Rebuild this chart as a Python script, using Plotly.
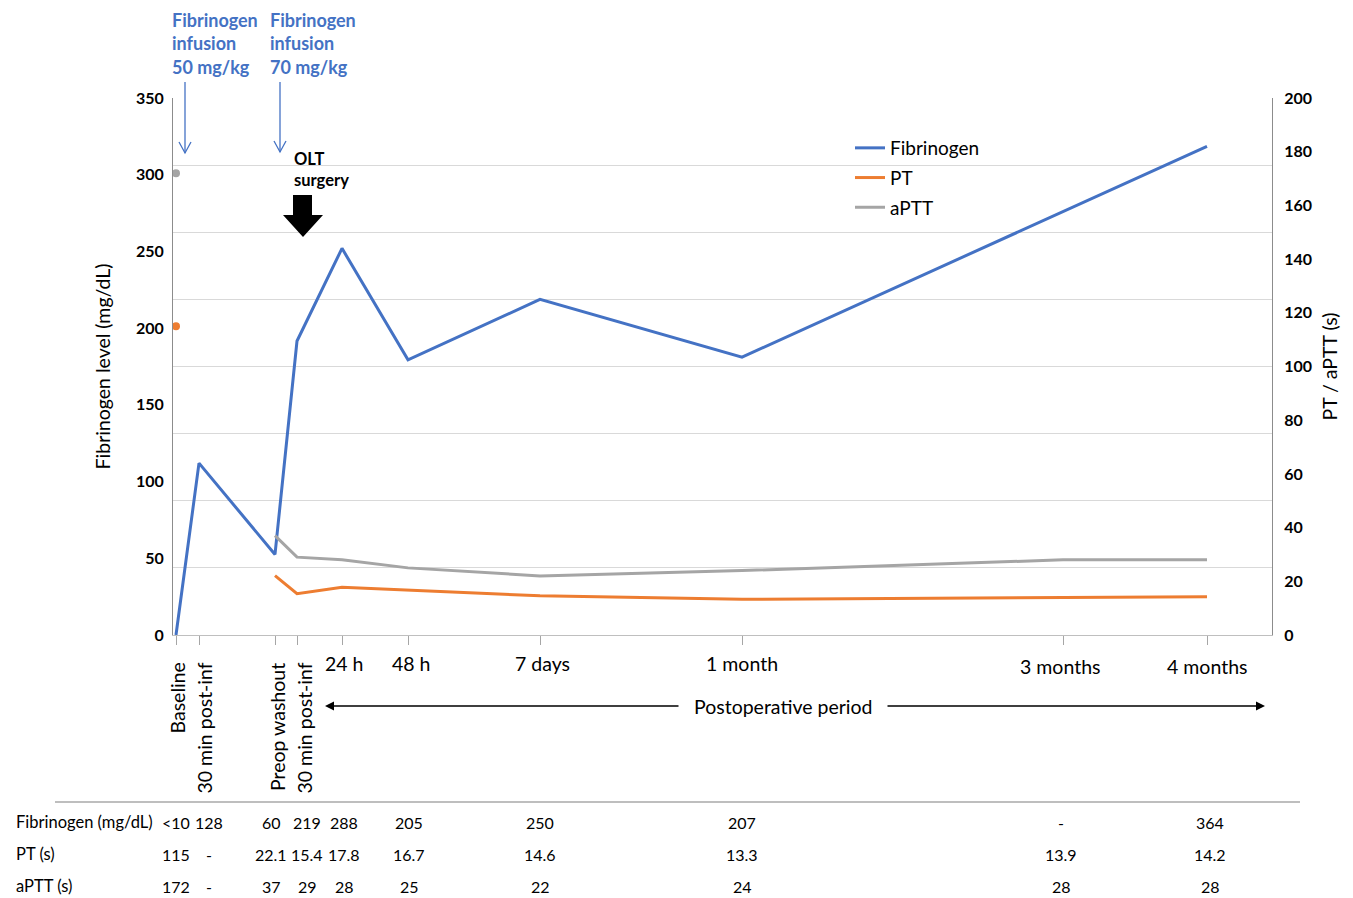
import plotly.graph_objects as go

# ---------------- data ----------------
time_labels = ["Baseline", "30 min post-inf", "Preop washout", "30 min post-inf",
               "24 h", "48 h", "7 days", "1 month", "3 months", "4 months"]
rotated_label = [True, True, True, True, False, False, False, False, False, False]
# position of each time point along the (non-linear) time axis
time_pos = [3, 26, 102, 124, 169, 235, 367, 569, 890, 1034]

fibrinogen = [0, 128, 60, 219, 288, 205, 250, 207, None, 364]
pt = [115, None, 22.1, 15.4, 17.8, 16.7, 14.6, 13.3, 13.9, 14.2]
aptt = [172, None, 37, 29, 28, 25, 22, 24, 28, 28]

fib_text = ["<10", "128", "60", "219", "288", "205", "250", "207", "-", "364"]
pt_text = ["115", "-", "22.1", "15.4", "17.8", "16.7", "14.6", "13.3", "13.9", "14.2"]
aptt_text = ["172", "-", "37", "29", "28", "25", "22", "24", "28", "28"]
row_names = ["Fibrinogen (mg/dL)", "PT (s)", "aPTT (s)"]

left_ticks = [0, 50, 100, 150, 200, 250, 300, 350]
right_ticks = list(range(0, 201, 20))

# ---------------- style ----------------
FONT = "Lato"
BLUE = "#4472C4"
ORANGE = "#ED7D31"
GRAY = "#A5A5A5"
W, H = 1353, 898          # browser window
OFF = 8                   # page body margin
L, R, T, B = 173, 1272, 98, 635   # plot area in window pixels
label_shift = [1, 5, 2, 7, 2, 3, 2, 0, -3, 0]
table_shift = [0, 10, -4, 10, 2, 1, 0, 0, -2, 3]


def px_x(px):
    return (px - L) / (R - L)


def px_y(py):
    return (B - py) / (B - T)


fig = go.Figure()

fig.add_trace(go.Scatter(x=time_pos, y=fibrinogen, name="Fibrinogen", mode="lines",
                         line=dict(color=BLUE, width=3), connectgaps=True,
                         yaxis="y", legendgroup="a"))
fig.add_trace(go.Scatter(x=time_pos, y=pt, name="PT", mode="lines",
                         line=dict(color=ORANGE, width=3), connectgaps=False,
                         yaxis="y2", legendgroup="b"))
fig.add_trace(go.Scatter(x=time_pos, y=aptt, name="aPTT", mode="lines",
                         line=dict(color=GRAY, width=3), connectgaps=False,
                         yaxis="y2", legendgroup="c"))
fig.add_trace(go.Scatter(x=time_pos[:1], y=pt[:1], mode="markers", showlegend=False,
                         marker=dict(color=ORANGE, size=8), yaxis="y2"))
fig.add_trace(go.Scatter(x=time_pos[:1], y=aptt[:1], mode="markers", showlegend=False,
                         marker=dict(color=GRAY, size=8), yaxis="y2"))
# carrier for the labelled left axis
fig.add_trace(go.Scatter(x=[time_pos[0]], y=[0], mode="markers", showlegend=False,
                         marker=dict(size=1, color="rgba(0,0,0,0)"), hoverinfo="skip",
                         yaxis="y3"))

annotations = []
shapes = []

# x tick labels
for lab, x, rot, sh in zip(time_labels, time_pos, rotated_label, label_shift):
    if rot:
        annotations.append(dict(x=x, y=px_y(661), xref="x", yref="paper", text=lab,
                                textangle=-90, showarrow=False, xanchor="center",
                                yanchor="top", xshift=sh,
                                font=dict(family=FONT, size=19.5, color="black")))
    else:
        yy = 666 if "months" in lab else 664
        annotations.append(dict(x=x, y=px_y(yy), xref="x", yref="paper", text=lab,
                                showarrow=False, xanchor="center", yanchor="middle",
                                xshift=sh,
                                font=dict(family=FONT, size=19.5, color="black")))

# Postoperative period
annotations.append(dict(x=px_x(783), y=px_y(706), xref="paper", yref="paper",
                        text="Postoperative period", showarrow=False,
                        xanchor="center", yanchor="middle",
                        font=dict(family=FONT, size=19.5, color="black")))
annotations.append(dict(x=325 - L, y=px_y(706), xref="x", yref="paper", ax=680 - L, ay=0,
                        axref="x", ayref="pixel", text="", showarrow=True, arrowhead=2,
                        arrowsize=1.2, arrowwidth=1.5, arrowcolor="black"))
annotations.append(dict(x=1265 - L, y=px_y(706), xref="x", yref="paper", ax=886 - L, ay=0,
                        axref="x", ayref="pixel", text="", showarrow=True, arrowhead=2,
                        arrowsize=1.2, arrowwidth=1.5, arrowcolor="black"))

# infusion notes
for xx, dose in [(170, "50 mg/kg"), (268, "70 mg/kg")]:
    annotations.append(dict(x=px_x(xx), y=px_y(43), xref="paper", yref="paper",
                            text="Fibrinogen<br>infusion<br>" + dose, showarrow=False,
                            xanchor="left", yanchor="middle", align="left",
                            font=dict(family=FONT, size=18, color=BLUE, weight="bold")))
for ax_x, y0, y1 in [(185, 82, 153), (280, 82, 152)]:
    shapes.append(dict(type="line", xref="paper", yref="paper", x0=px_x(ax_x), x1=px_x(ax_x),
                       y0=px_y(y0), y1=px_y(y1), line=dict(color=BLUE, width=1.3)))
    shapes.append(dict(type="path", xref="paper", yref="paper",
                       path=f"M {px_x(ax_x-6)},{px_y(y1-11)} L {px_x(ax_x)},{px_y(y1)} L {px_x(ax_x+6)},{px_y(y1-11)}",
                       line=dict(color=BLUE, width=1.3)))

# OLT surgery
annotations.append(dict(x=px_x(292), y=px_y(169), xref="paper", yref="paper",
                        text="OLT<br>surgery", showarrow=False, xanchor="left",
                        yanchor="middle", align="left",
                        font=dict(family=FONT, size=16.5, color="black", weight="bold")))
pts = [(293, 195), (312, 195), (312, 215), (323, 215), (303, 237), (283, 215), (293, 215)]
path = "M " + " L ".join(f"{px_x(a)},{px_y(b)}" for a, b in pts) + " Z"
shapes.append(dict(type="path", xref="paper", yref="paper", path=path,
                   fillcolor="black", line=dict(color="black", width=0)))

# table
shapes.append(dict(type="line", xref="paper", yref="paper", x0=px_x(55), x1=px_x(1300),
                   y0=px_y(802), y1=px_y(802), line=dict(color="#7F7F7F", width=1.2)))
for name, texts, yy in zip(row_names, [fib_text, pt_text, aptt_text], [822, 854, 886]):
    annotations.append(dict(x=px_x(14), y=px_y(yy), xref="paper", yref="paper", text=name,
                            showarrow=False, xanchor="left", yanchor="middle",
                            font=dict(family=FONT, size=16.5, color="black")))
    for x, t, sh in zip(time_pos, texts, table_shift):
        annotations.append(dict(x=x, y=px_y(yy), xref="x", yref="paper", text=t,
                                showarrow=False, xanchor="center", yanchor="middle",
                                xshift=sh,
                                font=dict(family=FONT, size=16, color="black")))

fig.update_layout(
    width=W - OFF, height=H - OFF,
    margin=dict(l=L - OFF, r=W - R, t=T - OFF, b=H - B, pad=0),
    paper_bgcolor="white", plot_bgcolor="white",
    font=dict(family=FONT, color="black"),
    showlegend=True,
    legend=dict(x=px_x(850), y=px_y(129), xanchor="left", yanchor="top",
                bgcolor="rgba(0,0,0,0)", font=dict(family=FONT, size=19),
                traceorder="grouped", tracegroupgap=2, itemwidth=30),
    xaxis=dict(range=[0, R - L], showgrid=False, zeroline=False, showline=True,
               linecolor="#BFBFBF", linewidth=1, tickvals=time_pos, ticks="outside",
               ticklen=9, tickcolor="#A6A6A6", showticklabels=False),
    yaxis=dict(range=[0, 400], dtick=50, showgrid=True, gridcolor="#D9D9D9", gridwidth=1,
               zeroline=False, showline=False, showticklabels=False, ticks=""),
    yaxis3=dict(overlaying="y", side="left", range=[0, 350], tickvals=left_ticks,
                showgrid=False, zeroline=False, showline=True, linecolor="#8C8C8C",
                ticks="outside", ticklen=5, tickcolor="rgba(0,0,0,0)",
                tickfont=dict(family=FONT, size=16, weight="bold"),
                title=dict(text="Fibrinogen level (mg/dL)", standoff=20,
                           font=dict(family=FONT, size=19.5))),
    yaxis2=dict(overlaying="y", side="right", range=[0, 200], tickvals=right_ticks,
                showgrid=False, zeroline=False, showline=True, linecolor="#8C8C8C",
                ticks="outside", ticklen=8, tickcolor="rgba(0,0,0,0)",
                tickfont=dict(family=FONT, size=16, weight="bold"),
                title=dict(text="PT / aPTT (s)", standoff=12,
                           font=dict(family=FONT, size=19.5))),
    annotations=annotations,
    shapes=shapes,
)

fig.write_html("out.html")
